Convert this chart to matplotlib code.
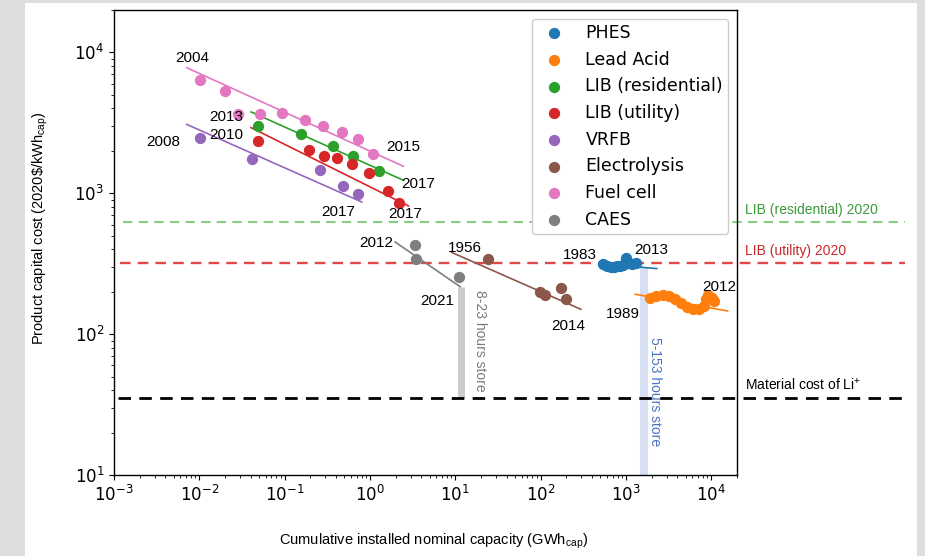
import matplotlib
matplotlib.use("Agg")
import matplotlib.pyplot as plt
from matplotlib.patches import Rectangle

plt.rcParams["font.family"] = ["DejaVu Sans"]
plt.rcParams["mathtext.rm"] = "Liberation Sans"
plt.rcParams["mathtext.it"] = "Liberation Sans:italic"
plt.rcParams["mathtext.bf"] = "Liberation Sans:bold"

# ---- cumulative capacity (GWh) and product cost (2020$/kWh) per technology ----
phes_x = [537, 600, 660, 720, 790, 860, 930, 1010, 1080, 1180, 1300]
phes_y = [314, 306, 298, 300, 304, 306, 312, 348, 318, 314, 318]

lead_x = [1920, 2260, 2730, 3210, 3780, 4440, 5220, 6140, 7210, 8260, 8710, 9200, 10250, 10800]
lead_y = [180, 186, 189, 186, 177, 166, 155, 150, 150, 158, 177, 189, 180, 171]

libres_x = [0.0492, 0.1545, 0.366, 0.638, 1.28]
libres_y = [2990, 2620, 2155, 1850, 1440]

libutil_x = [0.0492, 0.193, 0.290, 0.408, 0.622, 0.975, 1.61, 2.21]
libutil_y = [2350, 2018, 1850, 1792, 1606, 1393, 1038, 853]

vrfb_x = [0.0102, 0.0411, 0.26, 0.48, 0.731]
vrfb_y = [2485, 1762, 1455, 1127, 984]

elec_x = [24.4, 98.6, 113, 172.6, 199]
elec_y = [339, 199.5, 189, 211, 179]

fuel_x = [0.0102, 0.020, 0.0286, 0.0515, 0.0925, 0.173, 0.284, 0.475, 0.731, 1.096]
fuel_y = [6400, 5320, 3630, 3630, 3715, 3300, 2990, 2725, 2430, 1915]

caes_x = [3.38, 3.46, 10.9]
caes_y = [428, 344, 255]

# learning-curve trend lines (start/end points)
phes_trend = ([485, 2297], [317, 292])
lead_trend = ([1282, 15500], [192, 146])
libres_trend = ([0.0404, 2.46], [3780, 1237])
libutil_trend = ([0.0404, 2.82], [2924, 813])
vrfb_trend = ([0.00711, 0.80], [3085, 867])
elec_trend = ([9.1, 296], [380, 150])
fuel_trend = ([0.00711, 2.46], [7790, 1555])
caes_trend = ([1.97, 11.4], [451, 217])

series = [
    ("PHES", "#1f77b4", phes_x, phes_y, phes_trend),
    ("Lead Acid", "#ff7f0e", lead_x, lead_y, lead_trend),
    ("LIB (residential)", "#2ca02c", libres_x, libres_y, libres_trend),
    ("LIB (utility)", "#d62728", libutil_x, libutil_y, libutil_trend),
    ("VRFB", "#9467bd", vrfb_x, vrfb_y, vrfb_trend),
    ("Electrolysis", "#8c564b", elec_x, elec_y, elec_trend),
    ("Fuel cell", "#e377c2", fuel_x, fuel_y, fuel_trend),
    ("CAES", "#7f7f7f", caes_x, caes_y, caes_trend),
]

# reference cost levels
lib_res_2020 = 622
lib_util_2020 = 319
li_material = 35.2

# year annotations: (text, x, y)
year_labels = [
    ("2004", 0.0082, 9060), ("2013", 0.0206, 3460), ("2010", 0.0206, 2576),
    ("2008", 0.00375, 2300), ("2015", 2.44, 2118), ("2017", 3.66, 1159),
    ("2017", 0.423, 733), ("2017", 2.58, 710), ("2012", 1.18, 442),
    ("2021", 6.12, 171), ("1956", 13.0, 408), ("2014", 210, 114),
    ("1983", 290, 363), ("2013", 1972, 394), ("1989", 927, 139),
    ("2012", 12400, 215),
]

# storage-duration bands: x, top, bottom
caes_band = (11.5, 217, li_material)
phes_band = (1633, 294, 10)

W, H = 925, 556
fig = plt.figure(figsize=(W / 100, H / 100), dpi=100, facecolor="#dedede")
fig.patches.append(Rectangle((25 / W, 0), (917 - 25) / W, 1 - 3 / H,
                             transform=fig.transFigure, facecolor="white",
                             edgecolor="none", zorder=-10))
ax = fig.add_axes([114 / W, 1 - 475 / H, 623 / W, 465 / H])
ax.set_xscale("log")
ax.set_yscale("log")
ax.set_xlim(1e-3, 2e4)
ax.set_ylim(10, 2e4)
for sp in ax.spines.values():
    sp.set_linewidth(1.0)

for name, col, xs, ys, (tx, ty) in series:
    ax.plot(tx, ty, color=col, lw=1.2, zorder=2)
    ax.scatter(xs, ys, s=66, color=col, label=name, zorder=3, linewidths=0)

# vertical duration bands
bx, btop, bbot = caes_band
ax.plot([bx, bx], [btop, bbot], color="#cccccc", lw=5, solid_capstyle="butt", zorder=1)
bx, btop, bbot = phes_band
ax.plot([bx, bx], [btop, bbot], color="#d6e0f2", lw=5.8, solid_capstyle="butt", zorder=1)

ytr = ax.get_yaxis_transform()
label_font = ["Liberation Sans", "DejaVu Sans"]
for val, col, lw, txt, txtcol, x0 in [
    (lib_res_2020, "#88cc88", 1.5, "LIB (residential) 2020", "#3a9a3a", 0.014),
    (lib_util_2020, "#e04848", 1.7, "LIB (utility) 2020", "#c8282a", 0.009),
    (li_material, "black", 2.0, "Material cost of Li$^{+}$", "black", 0.006),
]:
    ax.plot([x0, 1.27], [val, val], transform=ytr, color=col, lw=lw,
            dashes=(4.5, 3), clip_on=False, zorder=1.5)
    ax.annotate(txt, xy=(1.013, val), xycoords=ytr, xytext=(0, 4),
                textcoords="offset points", va="bottom", ha="left",
                color=txtcol, fontsize=10, family=label_font,
                math_fontfamily="custom", annotation_clip=False)

for txt, x, y in year_labels:
    ax.text(x, y, txt, ha="center", va="center", fontsize=11,
            family=label_font, zorder=4, clip_on=False)

ax.text(19.5, 205, "8-23 hours store", rotation=270, ha="center", va="top",
        color="#7a7a7a", fontsize=10, family=label_font)
ax.text(2198, 95.3, "5-153 hours store", rotation=270, ha="center", va="top",
        color="#4a72c4", fontsize=10, family=label_font)

leg = ax.legend(loc="upper right", fontsize=12.5, framealpha=1, labelspacing=0.5,
                borderaxespad=0.5, scatterpoints=1, handletextpad=0.8,
                borderpad=0.3)
leg.set_zorder(10)

ax.tick_params(axis="both", which="major", labelsize=12)

fig.text(434 / W, 1 - 541 / H,
         "Cumulative installed nominal capacity (GWh$_{\\mathrm{cap}}$)",
         ha="center", va="center", fontsize=10.5, family=label_font,
         math_fontfamily="custom")
fig.text(40 / W, 1 - 228 / H,
         "Product capital cost (2020\\$/kWh$_{\\mathrm{cap}}$)",
         ha="center", va="center", rotation=90, fontsize=10.5,
         family=label_font, math_fontfamily="custom")

fig.savefig("out.png", dpi=100, facecolor=fig.get_facecolor())
